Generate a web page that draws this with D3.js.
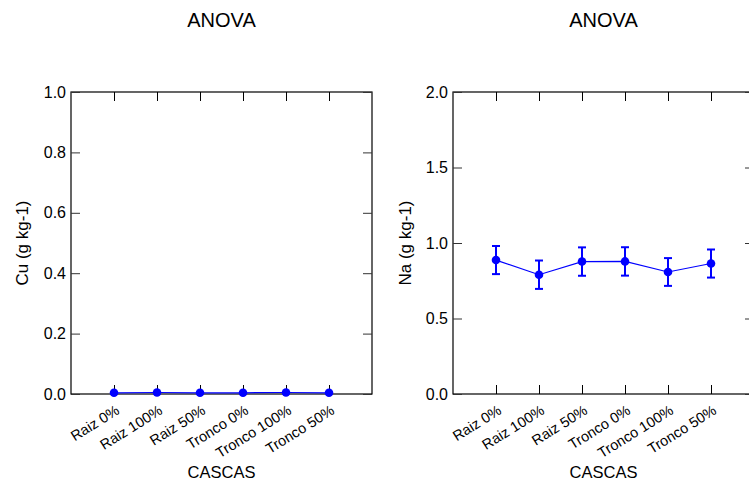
<!DOCTYPE html>
<html><head><meta charset="utf-8">
<script src="https://cdn.jsdelivr.net/npm/d3@7"></script>
<style>body{margin:0;background:#fff}svg{display:block}text{font-family:"Liberation Sans",Arial,sans-serif}</style>
</head><body>
<svg id="c" width="749" height="485"></svg>
<script>
const categories = ["Raiz 0%","Raiz 100%","Raiz 50%","Tronco 0%","Tronco 100%","Tronco 50%"];
const cuMeans = [0.004,0.005,0.004,0.004,0.005,0.004];
const cuErr = [0.001,0.001,0.001,0.001,0.001,0.001];
const naMeans = [0.887,0.790,0.877,0.878,0.808,0.864];
const naErr = [0.093,0.094,0.094,0.094,0.092,0.093];
const cuTicks = [0,0.2,0.4,0.6,0.8,1.0];
const naTicks = [0,0.5,1.0,1.5,2.0];

const svg = d3.select("#c");
const blue = "#0000ff";

function panel(opt){
  const g = svg.append("g");
  const x = d3.scalePoint().domain(categories).range([opt.left, opt.left+301]).padding(1);
  const y = d3.scaleLinear().domain(opt.domain).range([394, 92]);
  const L = opt.left, R = opt.left+301, T = 92, B = 394;
  g.append("text").attr("x", (L+R)/2).attr("y", 27).attr("text-anchor","middle")
    .attr("font-size", 20).text("ANOVA");
  g.append("rect").attr("x", L).attr("y", T).attr("width", R-L).attr("height", B-T)
    .attr("fill","none").attr("stroke","#000").attr("stroke-width",1.2);
  const ya = d3.axisLeft(y).tickValues(opt.ticks).tickFormat(d3.format(".1f")).tickSize(-9).tickPadding(5);
  const gy = g.append("g").attr("transform",`translate(${L},0)`).call(ya);
  gy.select(".domain").remove();
  gy.selectAll("line").attr("stroke","#333");
  gy.selectAll("text").attr("font-size",16).attr("fill","#000").attr("font-family","Liberation Sans, Arial, sans-serif");
  const yr = d3.axisRight(y).tickValues(opt.ticks).tickFormat("").tickSize(-9);
  const gr = g.append("g").attr("transform",`translate(${R},0)`).call(yr);
  gr.select(".domain").remove();
  gr.selectAll("line").attr("stroke","#333");
  const xa = d3.axisBottom(x).tickSize(-9).tickPadding(0);
  const gx = g.append("g").attr("transform",`translate(0,${B})`).call(xa);
  gx.select(".domain").remove();
  gx.selectAll("line").attr("stroke","#000");
  gx.selectAll("text").attr("font-size",14.5).attr("fill","#000")
    .attr("font-family","Liberation Sans, Arial, sans-serif")
    .attr("text-anchor","end").attr("dy",null).attr("y",null)
    .attr("transform","translate(6,19) rotate(-32)");
  const xt = d3.axisTop(x).tickSize(-9).tickFormat("");
  const gt = g.append("g").attr("transform",`translate(0,${T})`).call(xt);
  gt.select(".domain").remove();
  gt.selectAll("line").attr("stroke","#000");
  g.append("text").attr("x",(L+R)/2).attr("y",478).attr("text-anchor","middle")
    .attr("font-size",16.5).text("CASCAS");
  g.append("text").attr("transform",`translate(${opt.ylx},${(T+B)/2}) rotate(-90)`)
    .attr("text-anchor","middle").attr("font-size",17).text(opt.ylabel);
  const pts = categories.map((c,i)=>({c, m: opt.means[i], e: opt.err[i]}));
  g.append("path").datum(pts).attr("fill","none").attr("stroke",blue).attr("stroke-width",1.2)
    .attr("d", d3.line().x(d=>x(d.c)).y(d=>y(d.m)));
  const eb = g.append("g").attr("stroke",blue).attr("stroke-width",2);
  pts.forEach(d=>{
    if (y(d.m-d.e) - y(d.m+d.e) < 3) return;
    eb.append("line").attr("x1",x(d.c)).attr("x2",x(d.c)).attr("y1",y(d.m-d.e)).attr("y2",y(d.m+d.e));
    eb.append("line").attr("x1",x(d.c)-4).attr("x2",x(d.c)+4).attr("y1",y(d.m-d.e)).attr("y2",y(d.m-d.e));
    eb.append("line").attr("x1",x(d.c)-4).attr("x2",x(d.c)+4).attr("y1",y(d.m+d.e)).attr("y2",y(d.m+d.e));
  });
  g.append("g").selectAll("circle").data(pts).join("circle")
    .attr("cx",d=>x(d.c)).attr("cy",d=>y(d.m)).attr("r",4.3).attr("fill",blue);
}
panel({left:71, domain:[0,1], ticks:cuTicks, means:cuMeans, err:cuErr, ylabel:"Cu (g kg-1)", ylx:28});
panel({left:453, domain:[0,2], ticks:naTicks, means:naMeans, err:naErr, ylabel:"Na (g kg-1)", ylx:411});
</script>
</body></html>
